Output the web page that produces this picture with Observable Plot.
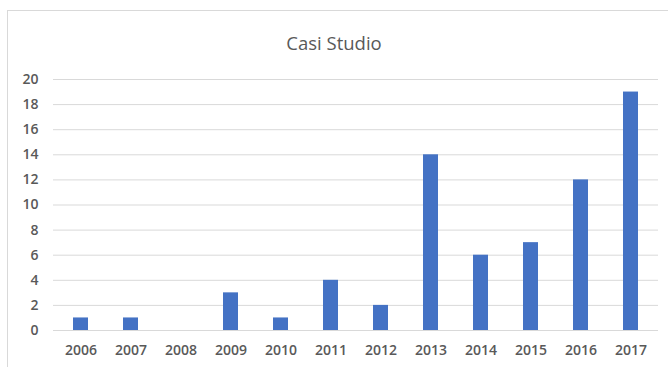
<!DOCTYPE html>
<html>
<head>
<meta charset="utf-8">
<script src="https://cdn.jsdelivr.net/npm/d3@7"></script>
<script src="https://cdn.jsdelivr.net/npm/@observablehq/plot@0.6"></script>
<style>
  html, body { margin: 0; padding: 0; background: #fff; }
  #wrap { position: relative; width: 668px; height: 367px; overflow: hidden; font-family: "Open Sans", sans-serif; }
  #frame { position: absolute; left: 7px; top: 10px; width: 670px; height: 400px; border: 1px solid #d9d9d9; box-sizing: border-box; }
  #title { position: absolute; left: 0; width: 668px; top: 30px; text-align: center; font-size: 18.5px; color: #595959; }
  #chart { position: absolute; left: 0; top: 0; }
</style>
</head>
<body>
<div id="wrap">
  <div id="frame"></div>
  <div id="title">Casi Studio</div>
  <div id="chart"></div>
</div>
<script>
const years = ["2006","2007","2008","2009","2010","2011","2012","2013","2014","2015","2016","2017"];
const cases = [1, 1, 0, 3, 1, 4, 2, 14, 6, 7, 12, 19];
const yTicks = [0, 2, 4, 6, 8, 10, 12, 14, 16, 18, 20];

const data = years.map((y, i) => ({year: y, value: cases[i]}));

const chart = Plot.plot({
  width: 668,
  height: 367,
  marginTop: 79,
  marginBottom: 37,
  marginLeft: 53,
  marginRight: 10,
  style: {background: "transparent", fontFamily: "Open Sans, sans-serif", fontSize: "14px", color: "#595959", fontWeight: "600"},
  x: {domain: years, paddingInner: 0.7, paddingOuter: 0.35, label: null, tickSize: 0, tickPadding: 15},
  y: {domain: [0, 20], ticks: yTicks, label: null, tickSize: 0, tickPadding: 15, tickFormat: d => d},
  marks: [
    Plot.gridY(yTicks, {stroke: "#d9d9d9", strokeOpacity: 1, strokeWidth: 1}),
    Plot.barY(data, {x: "year", y: "value", fill: "#4472c4"})
  ]
});
document.getElementById("chart").appendChild(chart);
</script>
</body>
</html>
